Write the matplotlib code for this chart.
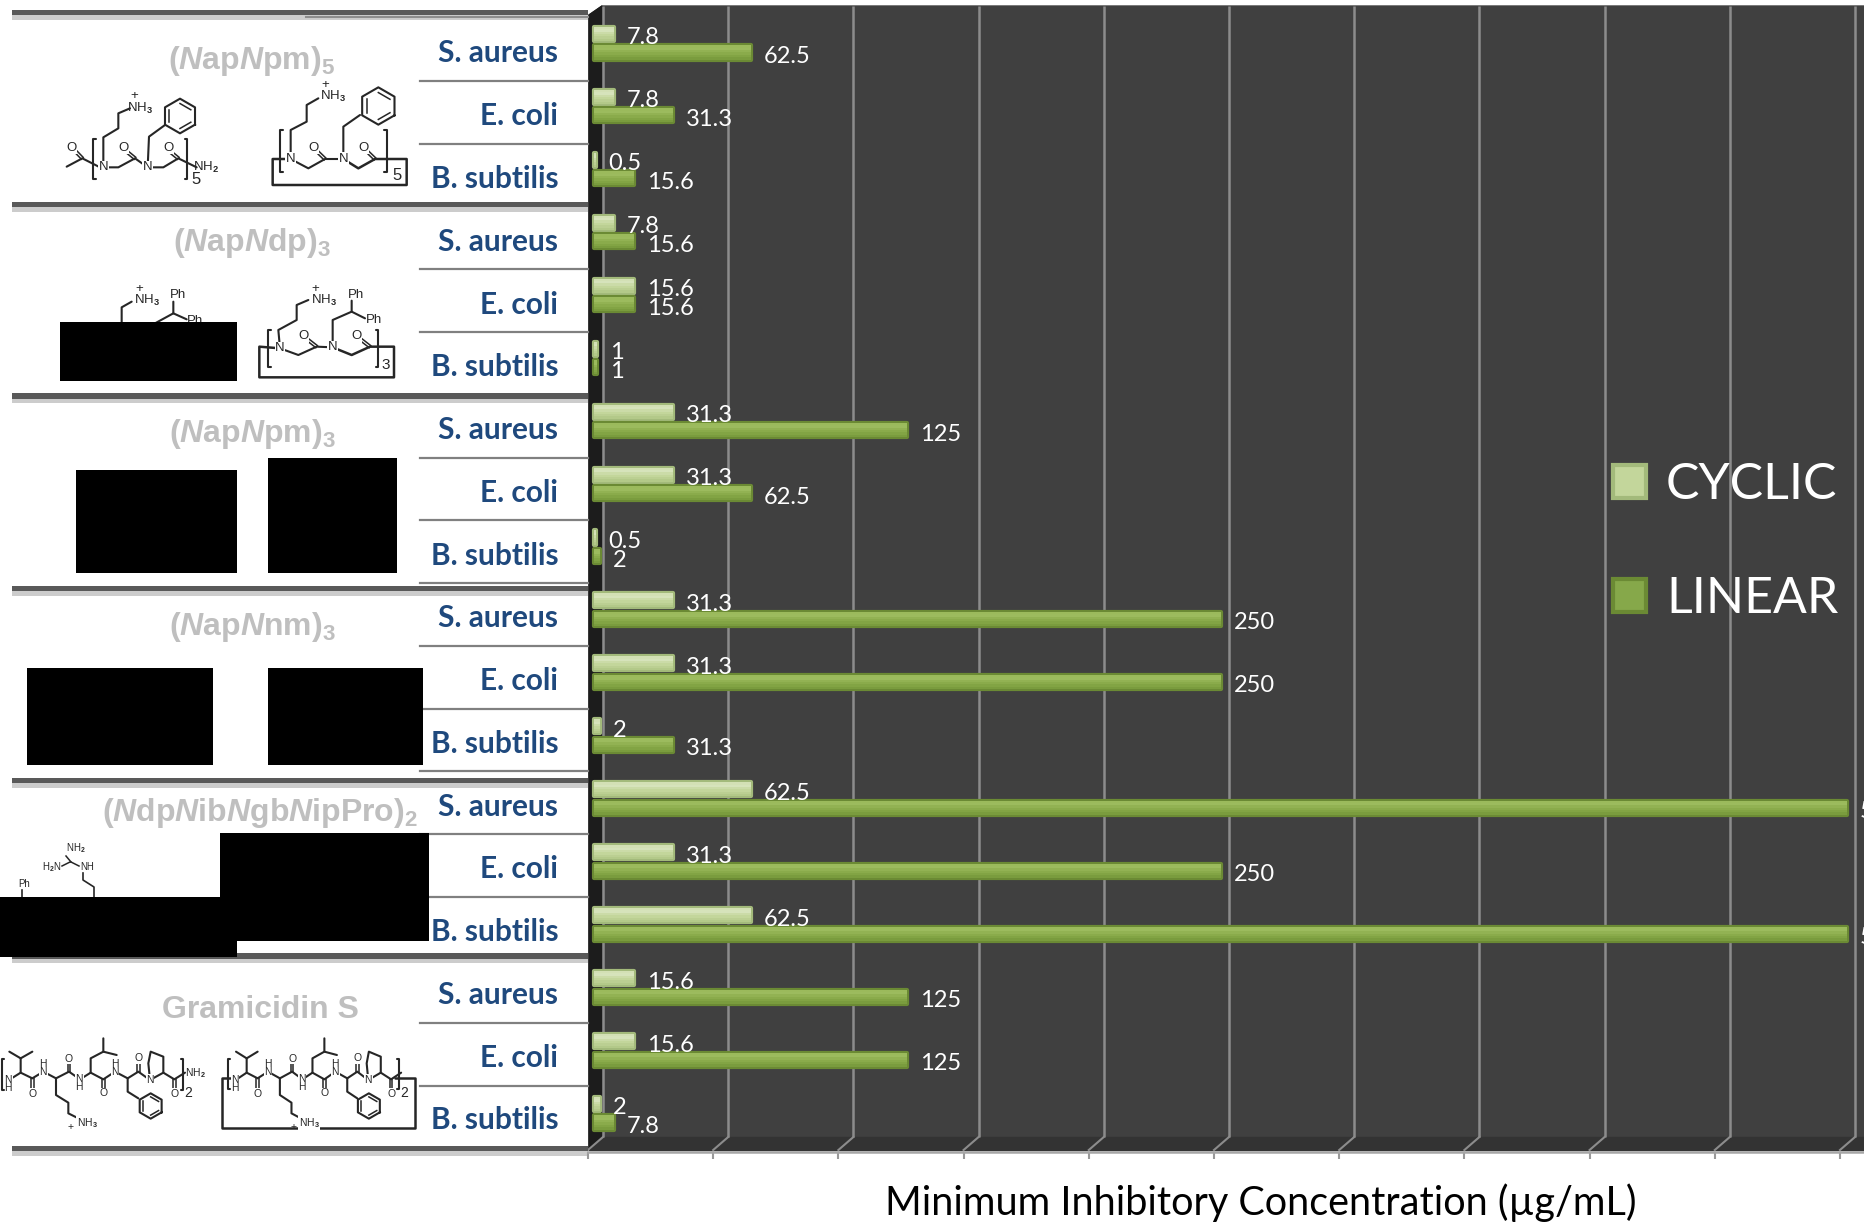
import matplotlib
matplotlib.use("Agg")
import matplotlib.pyplot as plt
import numpy as np

plt.rcParams['font.family'] = ['Lato', 'DejaVu Sans']
plt.rcParams['mathtext.fontset'] = 'custom'
plt.rcParams['mathtext.rm'] = 'Liberation Sans:bold'
plt.rcParams['mathtext.it'] = 'Liberation Sans:italic:bold'
plt.rcParams['mathtext.bf'] = 'Liberation Sans:bold'

# data
organisms = ["S. aureus", "E. coli", "B. subtilis"] * 6
cyclic = [7.8, 7.8, 0.5, 7.8, 15.6, 1, 31.3, 31.3, 0.5, 31.3, 31.3, 2, 62.5, 31.3, 62.5, 15.6, 15.6, 2]
linear = [62.5, 31.3, 15.6, 15.6, 15.6, 1, 125, 62.5, 2, 250, 250, 31.3, 500, 250, 500, 125, 125, 7.8]
tick_vals = [0, 50, 100, 150, 200, 250, 300, 350, 400, 450, 500]
titles = [r"$(\mathit{N}\mathrm{ap}\mathit{N}\mathrm{pm})_{5}$",
          r"$(\mathit{N}\mathrm{ap}\mathit{N}\mathrm{dp})_{3}$",
          r"$(\mathit{N}\mathrm{ap}\mathit{N}\mathrm{pm})_{3}$",
          r"$(\mathit{N}\mathrm{ap}\mathit{N}\mathrm{nm})_{3}$",
          r"$(\mathit{N}\mathrm{dp}\mathit{N}\mathrm{ib}\mathit{N}\mathrm{gb}\mathit{N}\mathrm{ip}\mathrm{Pro})_{2}$",
          "Gramicidin S"]
title_x = [252, 252, 252, 252, 260, 260]
title_y = [61, 243, 434, 627, 813, 1010]

W, H = 1864, 1225
BOND = "#262626"
fig = plt.figure(figsize=(W / 100, H / 100), dpi=100, facecolor="white")

# background layer in pixel coordinates (panels, rules, structures)
bg = fig.add_axes([0, 0, 1, 1], zorder=0)
bg.set_xlim(0, W)
bg.set_ylim(H, 0)
bg.axis("off")


class Sketch:
    def __init__(self, ox, oy, fx=None):
        self.ox, self.oy, self.fx = ox, oy, fx

    def xy(self, x, y):
        if self.fx:
            x = self.fx(x)
        return self.ox + x / 3, self.oy + y / 3

    def line(self, *pts, lw=1.5):
        p = np.array([self.xy(*q) for q in pts])
        bg.plot(p[:, 0], p[:, 1], color=BOND, lw=lw, solid_capstyle="round", zorder=3)

    def dbl(self, a, b):
        a, b = np.array(self.xy(*a)), np.array(self.xy(*b))
        n = (b - a)[::-1] * [1, -1] / np.hypot(*(b - a)) * 1.3
        for s in (-1, 1):
            bg.plot([a[0] + s * n[0], b[0] + s * n[0]], [a[1] + s * n[1], b[1] + s * n[1]],
                    color=BOND, lw=1.1, zorder=3)

    def ring(self, cx, cy, r):
        c = np.array(self.xy(cx, cy))
        r = r / 3
        ang = np.radians(np.arange(0, 361, 60) + 30)
        px, py = c[0] + r * np.cos(ang), c[1] + r * np.sin(ang)
        bg.plot(px, py, color=BOND, lw=1.5, zorder=3)
        for k in (0, 2, 4):
            qx = c[0] + 0.72 * r * np.cos(ang[k:k + 2])
            qy = c[1] + 0.72 * r * np.sin(ang[k:k + 2])
            bg.plot(qx, qy, color=BOND, lw=1.1, zorder=3)

    def txt(self, x, y, s, size=9.5):
        px, py = self.xy(x, y)
        bg.text(px, py, s, fontsize=size, color=BOND, ha="center", va="center",
                family="Liberation Sans", zorder=4)

    def nh(self, x, y, s, size=9.5):
        # label with a white halo so that bonds stop short of the atom
        px, py = self.xy(x, y)
        bg.text(px, py, s, fontsize=size, color=BOND, ha="center", va="center",
                family="Liberation Sans", zorder=4,
                bbox=dict(facecolor="white", edgecolor="none", pad=0.4))


def bracket(s, x, y0, y1, side):
    s.line((x + side * 8, y0), (x, y0), (x, y1), (x + side * 8, y1))


def peptoid_5():
    s = Sketch(50, 80)
    s.line((50, 260), (97, 235), (150, 262))
    s.dbl((97, 235), (68, 205))
    s.line((160, 262), (160, 172), (205, 145), (205, 100), (240, 85))
    s.line((160, 262), (205, 262), (255, 235), (293, 262))
    s.dbl((255, 235), (222, 208))
    s.line((293, 262), (297, 170), (345, 135))
    s.ring(390, 108, 52)
    s.line((293, 262), (340, 262), (385, 235), (440, 262))
    s.dbl((385, 235), (352, 208))
    bracket(s, 130, 178, 296, 1)
    bracket(s, 412, 178, 296, -1)
    s.nh(160, 262, "N")
    s.nh(293, 262, "N")
    s.nh(65, 203, "O")
    s.nh(220, 203, "O")
    s.nh(355, 203, "O")
    s.txt(270, 85, "NH$_3$")
    s.txt(252, 48, "+")
    s.txt(468, 262, "NH$_2$")
    s.txt(437, 297, "5", 12)

    s.line((722, 237), (722, 150), (770, 125), (770, 75), (805, 55))
    s.line((722, 237), (775, 265), (825, 237), (880, 237))
    s.dbl((825, 237), (795, 208))
    s.line((880, 237), (880, 140), (930, 105))
    s.ring(985, 78, 56)
    s.line((880, 237), (925, 265), (975, 237), (1070, 237), (1070, 315), (668, 315), (668, 237), (722, 237), lw=1.8)
    s.dbl((975, 237), (945, 208))
    bracket(s, 690, 150, 277, 1)
    bracket(s, 1010, 150, 277, -1)
    s.nh(722, 237, "N")
    s.nh(880, 237, "N")
    s.nh(790, 203, "O")
    s.nh(940, 203, "O")
    s.txt(850, 50, "NH$_3$")
    s.txt(826, 16, "+")
    s.txt(1040, 285, "5", 12)


def peptoid_3():
    s = Sketch(50, 270)
    s.line((245, 95), (215, 112), (215, 160))
    s.line((370, 95), (370, 130), (315, 160))
    s.line((370, 130), (410, 148))
    s.txt(292, 90, "NH$_3$")
    s.txt(268, 56, "+")
    s.txt(385, 75, "Ph")
    s.txt(436, 152, "Ph")

    s.line((690, 235), (685, 180), (740, 150), (740, 105), (775, 90))
    s.line((690, 235), (745, 255), (800, 230), (848, 232))
    s.dbl((800, 230), (768, 205))
    s.line((848, 232), (848, 150), (905, 125), (905, 92))
    s.line((905, 125), (945, 145))
    s.line((848, 232), (905, 255), (960, 230), (1032, 230), (1032, 322), (628, 322), (628, 230), (690, 235), lw=1.8)
    s.dbl((960, 230), (928, 205))
    bracket(s, 655, 180, 290, 1)
    bracket(s, 985, 180, 290, -1)
    s.nh(690, 235, "N")
    s.nh(848, 232, "N")
    s.nh(760, 198, "O")
    s.nh(918, 198, "O")
    s.txt(822, 90, "NH$_3$")
    s.txt(795, 56, "+")
    s.txt(918, 75, "Ph")
    s.txt(972, 150, "Ph")
    s.txt(1008, 285, "3", 11)


def guanidine_fragment():
    # what is left of the structure above the black box, in plain pixels
    bg.plot([66, 71], [856, 862], color=BOND, lw=1.1, zorder=3)
    bg.plot([70, 62], [862, 866], color=BOND, lw=1.1, zorder=3)
    bg.plot([71, 79], [862, 866], color=BOND, lw=1.1, zorder=3)
    bg.plot([83, 83, 94, 94], [873, 880, 887, 897], color=BOND, lw=1.2, zorder=3)
    bg.plot([22, 22], [890, 897], color=BOND, lw=1.2, zorder=3)
    for x, y, t in [(75.5, 848, "NH$_2$"), (52, 867, "H$_2$N"), (87, 867, "NH"), (24.5, 884, "Ph")]:
        bg.text(x, y, t, fontsize=7, color=BOND, ha="center", va="center",
                family="Liberation Sans", zorder=4)


def gramicidin(s, closed):
    s.line((28, 95), (62, 115), (97, 95))
    s.line((62, 115), (62, 158), (30, 178))
    s.line((62, 158), (97, 175), (130, 155), (168, 175), (207, 155), (240, 178), (272, 158), (310, 178),
           (345, 155), (383, 175), (415, 155), (450, 180), (490, 158), (523, 178), (555, 158))
    s.dbl((97, 175), (97, 215))
    s.dbl((207, 155), (207, 125))
    s.dbl((310, 178), (310, 212))
    s.dbl((415, 155), (415, 122))
    s.dbl((523, 178), (523, 215))
    s.line((272, 158), (272, 115), (310, 95), (310, 55))
    s.line((310, 95), (350, 105))
    s.line((168, 175), (168, 225), (205, 248), (205, 280), (235, 295))
    s.line((383, 175), (383, 215), (415, 235))
    s.ring(452, 258, 38)
    s.line((450, 180), (445, 130), (452, 95), (490, 110), (490, 158))
    for x, y, t in [(25, 180, "N"), (130, 155, "N"), (238, 178, "N"), (345, 155, "N"), (450, 180, "N")]:
        s.nh(x, y, t, 7.5)
    s.txt(25, 204, "H", 7.5)
    s.txt(130, 132, "H", 7.5)
    s.txt(238, 202, "H", 7.5)
    s.txt(345, 132, "H", 7.5)
    for x, y in [(97, 222), (207, 116), (310, 220), (415, 114), (523, 222)]:
        s.nh(x, y, "O", 7.5)
    s.nh(262, 308, "NH$_3$", 7.5)
    s.txt(212, 320, "+", 7.5)
    s.txt(565, 218, "2", 10)
    if not closed:
        s.txt(585, 158, "NH$_2$", 7.5)


def gramicidin_all():
    s = Sketch(0, 1020)
    bracket(s, 5, 118, 210, 1)
    bracket(s, 550, 118, 210, -1)
    gramicidin(s, False)

    # the cyclic drawing is the same skeleton, a bit narrower
    s = Sketch(215, 1020, lambda x: 95 + 0.94 * (x - 62))
    gramicidin(s, True)
    s = Sketch(215, 1020)
    bracket(s, 38, 118, 207, 1)
    bracket(s, 553, 118, 207, -1)
    s.line((55, 175), (20, 175), (20, 325), (600, 325), (600, 175), (540, 175), lw=1.8)


# chart wall, side and floor
bg.fill([589, 602, W, W, 589], [15, 6, 6, 1150, 1150], color="#404040", zorder=1)
bg.fill([602, W, W, 589], [1137, 1137, 1150, 1150], color="#333333", zorder=1)
bg.fill([589, 602, 602, 589], [15, 6, 1137, 1150], color="#1c1c1c", zorder=1)

# left table rules
dark_rules = [(10, 15), (202, 207), (393, 399), (586, 591), (778, 783), (953, 959), (1146, 1151)]
light_rules = [(15, 20), (207, 212), (399, 403), (591, 596), (783, 788), (959, 963), (1151, 1156)]
for y0, y1 in dark_rules:
    bg.fill([12, 588, 588, 12], [y0, y0, y1, y1], color="#595959", zorder=2, lw=0)
for y0, y1 in light_rules:
    bg.fill([12, 588, 588, 12], [y0, y0, y1, y1], color="#cccccc", zorder=2, lw=0)
bg.plot([306, 588], [17, 17], color="#8c8c8c", lw=1.5, zorder=2)
for y in [81, 144, 269, 332, 458, 520, 583, 646, 709, 771, 834, 897, 1023, 1086]:
    bg.plot([420, 588], [y, y], color="#808080", lw=1.6, zorder=2)

for t, x, y in zip(titles, title_x, title_y):
    bg.text(x, y, t, fontsize=23, color="#bfbfbf", ha="center", va="center",
            family="Liberation Sans", weight="bold", zorder=3)

peptoid_5()
peptoid_3()
guanidine_fragment()
gramicidin_all()

# blacked out parts of the source figure
black_boxes = [(60, 322, 237, 381), (76, 470, 237, 573), (267.5, 458, 397, 573),
               (27, 668, 213, 764.5), (267.5, 668, 423, 764.5), (220, 833, 429, 941), (0, 897, 237, 957)]
for x0, y0, x1, y1 in black_boxes:
    bg.fill([x0, x1, x1, x0], [y0, y0, y1, y1], color="black", zorder=5, lw=0)

# main chart axes: value 0 of the bars sits at px 594, 2.505 px per unit
AX_L, AX_T, AX_B = 588, 6, 1152
PX_UNIT = 2.505
ZERO = 594
ROW0, ROW = 43.25, 62.94
ax = fig.add_axes([AX_L / W, 1 - AX_B / H, (W - AX_L) / W, (AX_B - AX_T) / H], zorder=1)
ax.patch.set_alpha(0)
ax.set_xlim((AX_L - ZERO) / PX_UNIT, (W - ZERO) / PX_UNIT)
ax.set_ylim((AX_B - ROW0) / ROW, (AX_T - ROW0) / ROW)

ypos = np.arange(len(organisms))
bar_h = 18.5 / ROW


def draw_bars(values, y, base, shades, edge, label):
    # thick round edge gives the rounded bar ends, the shades the cylinder look
    v = np.array(values)
    c = ax.barh(y, v, height=bar_h * 0.76, color=base, edgecolor=edge,
                linewidth=3.0, joinstyle="round", label=label, zorder=3)
    n = len(shades)
    step = bar_h * 0.76 / n
    for k, col in enumerate(shades):
        ax.barh(y - bar_h * 0.38 + step * (k + 0.5), v, height=step,
                color=col, edgecolor="none", zorder=4)
    return c


y_c = ypos - bar_h / 2
y_l = ypos + bar_h / 2
h_c = draw_bars(cyclic, y_c, "#c3d69b", ["#d3e0b5", "#d6e3bb", "#cbdba8", "#c3d69b", "#bbcf92", "#b3c989"],
                "#a3ba7b", "CYCLIC")
h_l = draw_bars(linear, y_l, "#86a84a", ["#9bba5c", "#9cbb5e", "#92b253", "#8aab4b", "#82a444", "#7a9c3e"],
                "#6b8a34", "LINEAR")

lab_dx = 13 / PX_UNIT
lab_dy = 4 / ROW
for y, v in zip(y_c, cyclic):
    ax.text(v + lab_dx, y + lab_dy, "%g" % v, color="white", fontsize=17, va="center", ha="left", zorder=6)
for y, v in zip(y_l, linear):
    ax.text(v + lab_dx, y + lab_dy, "%g" % v, color="white", fontsize=17, va="center", ha="left", zorder=6)

# wall grid lines sit behind the front tick marks, with a slanted foot on the floor
tick_pos = np.array(tick_vals) - (ZERO - 587.5) / PX_UNIT
wall_pos = tick_pos + 15 / PX_UNIT
floor_y = (1137 - ROW0) / ROW
axis_y = (1150 - ROW0) / ROW
ax.vlines(wall_pos, (AX_T - ROW0) / ROW, floor_y, color="#8c8c8c", lw=1.8, zorder=1)
for a, b in zip(tick_pos, wall_pos):
    ax.plot([a, b], [axis_y, floor_y], color="#8c8c8c", lw=1.5, zorder=1)

ax.set_xticks(tick_pos)
ax.set_xticklabels([])
ax.tick_params(axis="x", length=5, color="#999999", width=1.5)
# the organism names run on a slightly tighter pitch than the bars
ax.set_yticks((51 + 62.76 * ypos - ROW0) / ROW)
ax.set_yticklabels(organisms, color="#1f497d", fontsize=21.5, weight="bold")
ax.tick_params(axis="y", length=0, pad=21.5)
for side in ["top", "right", "left"]:
    ax.spines[side].set_visible(False)
ax.spines["bottom"].set_color("#a6a6a6")
ax.spines["bottom"].set_linewidth(1.8)

ax.set_xlabel("Minimum Inhibitory Concentration (µg/mL)", fontsize=28.5, color="black",
              x=(1261 - AX_L) / (W - AX_L), labelpad=14)

ax.legend([h_c, h_l], ["CYCLIC", "LINEAR"], loc="upper left", frameon=False, labelcolor="white",
          fontsize=36, bbox_to_anchor=((1613 - AX_L) / (W - AX_L), 1 - (462 - AX_T) / (AX_B - AX_T)),
          borderaxespad=0, borderpad=0, handlelength=0.66, handleheight=0.66,
          handletextpad=0.4, labelspacing=1.36)

fig.savefig("out.png", dpi=100, facecolor="white")
